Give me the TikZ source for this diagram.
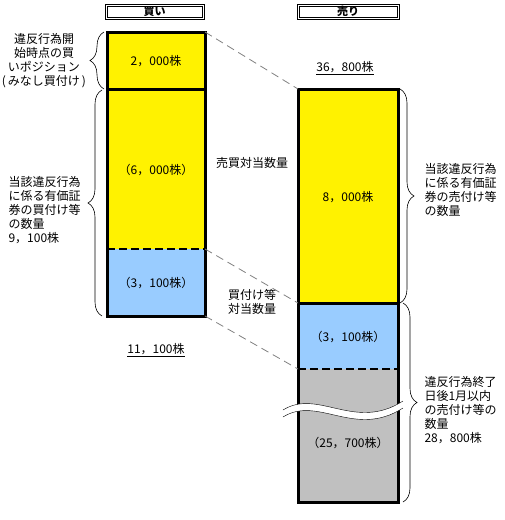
\documentclass[tikz,border=0pt]{standalone}
\usepackage{fontspec}
\setmainfont{Noto Sans CJK JP}
\usepackage{tikz}
\usetikzlibrary{decorations.pathreplacing}
\definecolor{celeste}{RGB}{153,204,255}
\definecolor{gris}{RGB}{192,192,192}

\begin{document}
\begin{tikzpicture}[x=1pt,y=-1pt,
    txt/.style={font=\fontsize{12}{14}\selectfont},
    nota/.style={txt,align=left,anchor=west},
    llave/.style={decorate,decoration={brace,amplitude=14pt},semithick},
    guia/.style={gray,thick,dash pattern=on 8pt off 5pt},
    corte/.style={line width=2.6pt,dash pattern=on 8pt off 4pt},
    borde/.style={line width=3pt}]
  \useasboundingbox (0,0) rectangle (504,520);
  % cabeceras
  \draw (105,4) rectangle (204,19);
  \draw (107,6) rectangle (202,17);
  \node[txt,font=\fontsize{11}{12}\selectfont\bfseries] (kai) at (154.5,11.5) {買い};
  \draw (297,4) rectangle (399,19);
  \draw (299,6) rectangle (397,17);
  \node[txt,font=\fontsize{11}{12}\selectfont\bfseries] (uri) at (348,11.5) {売り};
  % columna de compra
  \coordinate (c1) at (205,32);
  \coordinate (c2) at (205,249);
  \coordinate (c3) at (205,316);
  \fill[yellow] (107,32) rectangle (c2);
  \fill[celeste] (107,249) rectangle (c3);
  \draw[borde] (107,32) rectangle (c3);
  \draw[borde] (107,89) -- (205,89);
  \draw[corte] (107,249) -- (c2);
  \node[txt] (k1) at (156,61) {2，000株};
  \node[txt] (k2) at (156,170) {（6，000株）};
  \node[txt] (k3) at (156,283) {（3，100株）};
  \node[txt] (ksum) at (156,350) {\underline{11，100株}};
  % columna de venta
  \coordinate (d1) at (298,89);
  \coordinate (d2) at (298,303);
  \coordinate (d3) at (298,369);
  \fill[yellow] (d1) rectangle (398,303);
  \fill[celeste] (d2) rectangle (398,369);
  \fill[gris] (d3) rectangle (398,502);
  \draw[borde] (d1) rectangle (398,502);
  \draw[borde] (d2) -- (398,303);
  \draw[corte] (d3) -- (398,369);
  \node[txt] (u1) at (348,197) {8，000株};
  \node[txt] (u2) at (348,337) {（3，100株）};
  \node[txt] (u3) at (348,443) {（25，700株）};
  \node[txt] (usum) at (345,68) {\underline{36，800株}};
  % corte ondulado
  \fill[white] (283,410) .. controls (318,388) and (355,432) .. (403,401)
    -- (403,408) .. controls (355,439) and (318,395) .. (283,417) -- cycle;
  \draw (283,410) .. controls (318,388) and (355,432) .. (403,401);
  \draw (283,417) .. controls (318,395) and (355,439) .. (403,408);
  % lineas de correspondencia
  \draw[guia] (c1) -- (d1);
  \draw[guia] (c2) -- (d2);
  \draw[guia] (c3) -- (d3);
  \node[txt] (baibai) at (252,163) {売買対当数量};
  \node[txt,align=center] (kaitsuke) at (252,302) {買付け等\\対当数量};
  % llaves
  \draw[llave] (104,89) -- (104,32);
  \draw[llave] (102,316) -- (102,90);
  \draw[llave] (400,89) -- (400,303);
  \draw[llave] (403,303) -- (403,502);
  \node[txt,align=center,inner sep=1pt] (pos) at (44,61)
    {違反行為開\\始時点の買\\いポジション\\(\,みなし買付け\,)};
  \node[nota] (kaisu) at (5,210) {当該違反行為\\に係る有価証\\券の買付け等\\の数量\\9，100株};
  \node[nota] (urisu) at (421,190) {当該違反行為\\に係る有価証\\券の売付け等\\の数量};
  \node[nota] (ato) at (421,410) {違反行為終了\\日後1月以内\\の売付け等の\\数量\\28，800株};
\end{tikzpicture}
\end{document}
